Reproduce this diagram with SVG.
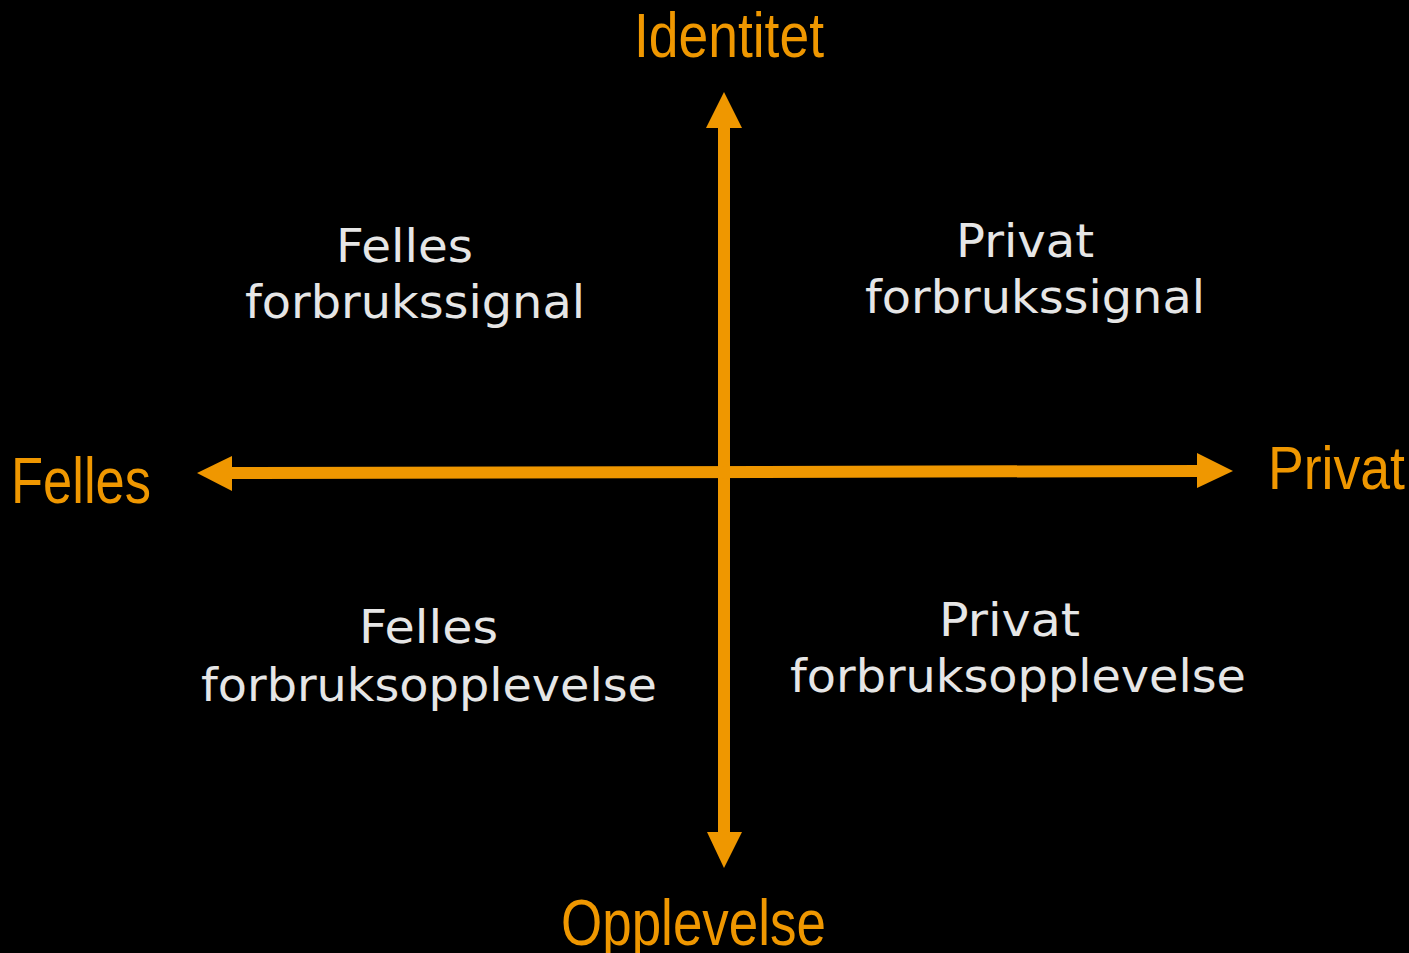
<svg xmlns="http://www.w3.org/2000/svg" width="1409" height="953" viewBox="0 0 1409 953">
<style>
.axis{font-family:"Liberation Sans Narrow","Liberation Sans",Arial,sans-serif;fill:#EF9700;}
.q{font-family:"DejaVu Sans",Verdana,sans-serif;fill:#E6E6E6;font-size:46px;}
.ln{stroke:#EF9700;stroke-width:12;fill:none;}
.hd{fill:#EF9700;}
</style>
<rect width="1409" height="953" fill="#000"/>
<g id="connectors">
<line class="ln" x1="724" y1="125" x2="724" y2="835"/>
<polygon class="hd" points="724,92 742,128 706,128"/>
<polygon class="hd" points="724,868 742,832 707,832"/>
<line class="ln" x1="229" y1="473" x2="1200" y2="471"/>
<polygon class="hd" points="197,473 232,456 232,491"/>
<polygon class="hd" points="1233,471 1197,453 1197,488"/>
</g>
<g id="identitet"><text class="axis" x="634" y="57" font-size="63" textLength="190" lengthAdjust="spacingAndGlyphs">Identitet</text></g>
<g id="felles"><text class="axis" x="11" y="503" font-size="64" textLength="140" lengthAdjust="spacingAndGlyphs">Felles</text></g>
<g id="privat"><text class="axis" x="1268" y="489" font-size="62" textLength="137" lengthAdjust="spacingAndGlyphs">Privat</text></g>
<g id="opplevelse"><text class="axis" x="561" y="945" font-size="65" textLength="265" lengthAdjust="spacingAndGlyphs">Opplevelse</text></g>
<g id="felles-forbrukssignal">
<text class="q" x="336" y="262" textLength="137" lengthAdjust="spacingAndGlyphs">Felles</text>
<text class="q" x="245" y="318" textLength="340" lengthAdjust="spacingAndGlyphs">forbrukssignal</text>
</g>
<g id="privat-forbrukssignal">
<text class="q" x="956" y="257" textLength="138" lengthAdjust="spacingAndGlyphs">Privat</text>
<text class="q" x="865" y="313" textLength="340" lengthAdjust="spacingAndGlyphs">forbrukssignal</text>
</g>
<g id="felles-forbruksopplevelse">
<text class="q" x="359" y="643" textLength="139" lengthAdjust="spacingAndGlyphs">Felles</text>
<text class="q" x="201" y="701" textLength="456" lengthAdjust="spacingAndGlyphs">forbruksopplevelse</text>
</g>
<g id="privat-forbruksopplevelse">
<text class="q" x="939" y="636" textLength="141" lengthAdjust="spacingAndGlyphs">Privat</text>
<text class="q" x="790" y="692" textLength="456" lengthAdjust="spacingAndGlyphs">forbruksopplevelse</text>
</g>
</svg>
